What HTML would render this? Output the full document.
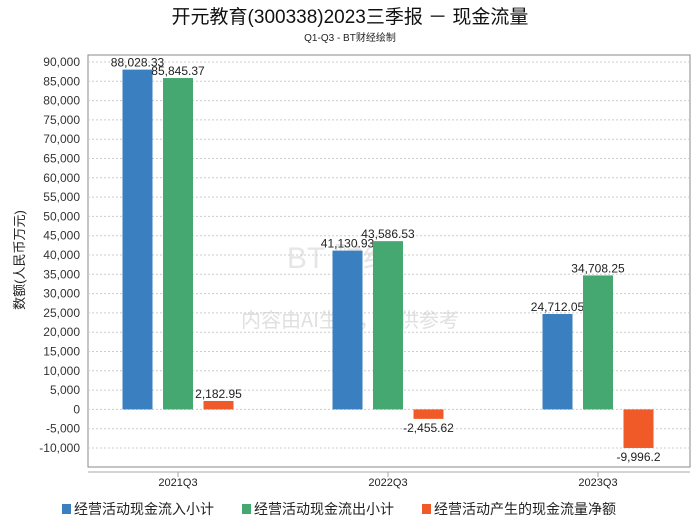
<!DOCTYPE html>
<html><head><meta charset="utf-8"><style>
body{margin:0;background:#fff;width:700px;height:524px;overflow:hidden;font-family:"Liberation Sans","Noto Sans CJK SC",sans-serif;}
</style></head><body>
<svg id="c" width="700" height="524" xmlns="http://www.w3.org/2000/svg" font-family="Liberation Sans, Noto Sans CJK SC, sans-serif">
<text x="350" y="23" text-anchor="middle" font-size="19" fill="#111">开元教育(300338)2023三季报 － 现金流量</text>
<text x="350" y="41" text-anchor="middle" font-size="10" fill="#222">Q1-Q3 - BT财经绘制</text>
<rect x="88" y="55" width="602" height="412" fill="none" stroke="#888"/>
<line x1="88" y1="472" x2="690" y2="472" stroke="#aaa"/>
<text x="0" y="0" transform="translate(24,260) rotate(-90)" text-anchor="middle" font-size="13" fill="#222">数额(人民币万元)</text>
<text x="340" y="268" text-anchor="middle" font-size="30" fill="#e6e6e6">BT 财经</text>
<text x="350" y="327" text-anchor="middle" font-size="20" fill="#e0e0e0" font-family="Noto Sans CJK SC, sans-serif">内容由AI生成，仅供参考</text>
<g id="grid"></g><g id="bars"></g>
<g id="legend"></g>
</svg>
<script>
const categories=["2021Q3","2022Q3","2023Q3"];
const seriesNames=["经营活动现金流入小计","经营活动现金流出小计","经营活动产生的现金流量净额"];
const inflow=[88028.33,41130.93,24712.05];
const outflow=[85845.37,43586.53,34708.25];
const net=[2182.95,-2455.62,-9996.2];
const labels=[["88,028.33","41,130.93","24,712.05"],["85,845.37","43,586.53","34,708.25"],["2,182.95","-2,455.62","-9,996.2"]];
const yTicks=[90000,85000,80000,75000,70000,65000,60000,55000,50000,45000,40000,35000,30000,25000,20000,15000,10000,5000,0,-5000,-10000];
const colors=["#3a7fc0","#44a870","#f05a28"];
const NS="http://www.w3.org/2000/svg";
const y=v=>409.4-v*(386/100000);
const xc=i=>178+i*210;
const fmt=v=>v.toLocaleString('en-US');
const grid=document.getElementById('grid'),bars=document.getElementById('bars'),leg=document.getElementById('legend');
function mk(tag,attrs,parent){const e=document.createElementNS(NS,tag);for(const k in attrs)e.setAttribute(k,attrs[k]);parent.appendChild(e);return e;}
yTicks.forEach(t=>{
 const l=mk('line',{x1:88,x2:690,y1:y(t),y2:y(t),stroke:'#ccc','stroke-dasharray':'2,2'},grid);
 
 
 const tx=mk('text',{x:80,y:y(t)+4,'text-anchor':'end','font-size':12,fill:'#333'},grid);
 tx.textContent=fmt(t);
 
 
});
categories.forEach((c,i)=>{
 const tk=mk('line',{x1:xc(i),x2:xc(i),y1:472,y2:477,stroke:'#aaa'},grid);
 
 
 const tx=mk('text',{x:xc(i),y:486,'text-anchor':'middle','font-size':11,fill:'#222'},grid);
 tx.textContent=c;
 
 
});
[inflow,outflow,net].forEach((arr,s)=>{
 arr.forEach((v,i)=>{
  const cx=xc(i)+(s-1)*40.5;
  const top=Math.min(y(v),y(0)),h=Math.abs(y(v)-y(0));
  const r=mk('rect',{x:cx-15,y:top,width:30,height:h,fill:colors[s]},bars);
  
  
  const t=mk('text',{x:cx,y:v>=0?y(v)-3:y(v)+13,'text-anchor':'middle','font-size':12,fill:'#222'},bars);
  t.textContent=labels[s][i];
  
  
 });
});
const lx=[62,242,422];
seriesNames.forEach((n,s)=>{
 const r=mk('rect',{x:lx[s],y:504,width:9,height:10,fill:colors[s]},leg);
 
 
 const t=mk('text',{x:lx[s]+12,y:514,'font-size':14,fill:'#222'},leg);
 t.textContent=n;
 
 
});
</script>
</body></html>
